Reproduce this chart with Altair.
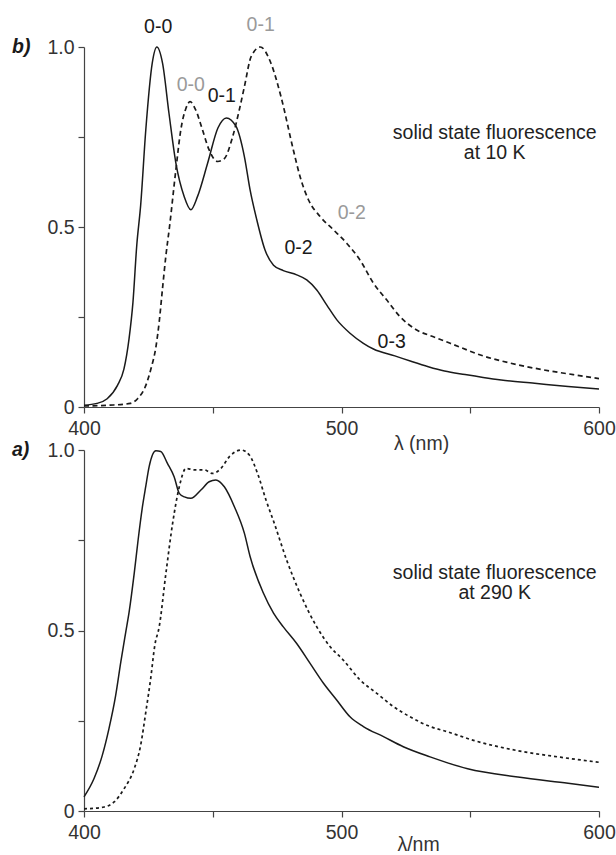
import altair as alt
import pandas as pd

FONT = "Liberation Sans"
FS = 19.5
INK = "#1a1a1a"
GRAY = "#9a9a9a"

# ---------------- panel b) : 10 K ----------------
wl_10k_solid = [400, 405, 409, 413, 415.5, 417.5, 419, 420.5, 422, 424, 426.5, 428.3,
                430.5, 433, 435.7, 438.9, 441.5, 444.1, 448, 452, 455.3, 459, 462.3,
                464.5, 467.1, 470.3, 473.6, 477.4, 482.6, 486.5, 490.4, 494.3, 498.2,
                503.3, 508.5, 512.4, 520.7, 527, 533.7, 540, 548, 555, 562, 575, 588, 600]
int_10k_solid = [0.005, 0.01, 0.023, 0.06, 0.105, 0.19, 0.29, 0.45, 0.56, 0.77, 0.955, 1.0,
                 0.955, 0.816, 0.677, 0.585, 0.548, 0.585, 0.677, 0.775, 0.803, 0.78, 0.695,
                 0.603, 0.52, 0.436, 0.394, 0.379, 0.367, 0.353, 0.325, 0.283, 0.242,
                 0.205, 0.177, 0.161, 0.142, 0.127, 0.112, 0.1, 0.09, 0.082, 0.075, 0.066,
                 0.057, 0.05]

wl_10k_dash = [400, 410, 418, 420.8, 424, 426, 428, 429.2, 430.5, 431.8, 433.2, 435.7,
               437.6, 439.6, 441.2, 443.4, 446, 448.6, 451.9, 454.5, 457.7, 460.3, 462.3,
               464.9, 468.5, 472.6, 476.5, 481.3, 483.9, 487.2, 491.7, 496.9, 502, 507.2,
               512.4, 517.6, 522.7, 529.2, 535.7, 542.2, 555, 568, 581, 590, 600]
int_10k_dash = [0.003, 0.005, 0.01, 0.023, 0.06, 0.106, 0.17, 0.236, 0.33, 0.42, 0.5, 0.66,
                0.77, 0.83, 0.848, 0.825, 0.77, 0.714, 0.682, 0.69, 0.75, 0.825, 0.89,
                0.973, 1.0, 0.955, 0.862, 0.714, 0.64, 0.575, 0.529, 0.492, 0.455, 0.408,
                0.344, 0.297, 0.251, 0.214, 0.195, 0.177, 0.142, 0.118, 0.1, 0.09, 0.079]

ann_10k_text = ["0-0", "0-0", "0-1", "0-1", "0-2", "0-2", "0-3"]
ann_10k_wl = [428.8, 441.5, 453.5, 468.6, 483.3, 504.0, 519.5]
ann_10k_val = [1.056, 0.894, 0.864, 1.06, 0.441, 0.538, 0.181]
ann_10k_color = [INK, GRAY, INK, GRAY, INK, GRAY, INK]

note_10k_text = ["solid state fluorescence", "at 10 K"]
note_10k_wl = [559.5, 559.5]
note_10k_val = [0.761, 0.705]

# ---------------- panel a) : 290 K ----------------
wl_290k_solid = [400, 403.9, 407.1, 409.7, 412.3, 414.3, 416.2, 417.5, 419.5, 421, 422.7,
                 424, 425.3, 427.9, 429.8, 432.4, 435, 437, 439, 441.5, 445.4, 448.6,
                 451.2, 454.5, 458.4, 462.3, 464.5, 469.7, 473.6, 477.4, 482.6, 487.8,
                 493, 498.2, 503.3, 508.5, 516.3, 524, 534.4, 549, 568.5, 588, 600]
int_290k_solid = [0.039, 0.09, 0.154, 0.228, 0.32, 0.413, 0.495, 0.55, 0.658, 0.75, 0.843,
                  0.9, 0.954, 0.998, 0.996, 0.963, 0.926, 0.88, 0.87, 0.866, 0.889, 0.912,
                  0.917, 0.898, 0.843, 0.769, 0.705, 0.603, 0.548, 0.51, 0.464, 0.409,
                  0.354, 0.307, 0.261, 0.234, 0.206, 0.178, 0.15, 0.117, 0.094, 0.077, 0.066]

wl_290k_dash = [400, 407.8, 411.7, 415.6, 419.5, 422, 424, 425.9, 427.5, 429.2, 431.8,
                434.4, 437, 439.6, 442.8, 446.7, 449.9, 453.2, 456.4, 461, 464.2, 467.4,
                470.7, 473.9, 478.7, 483.9, 490.4, 495.6, 500.7, 507.2, 513.7, 520.2,
                526.6, 534.4, 540.9, 551.6, 568.5, 585, 600]
int_290k_dash = [0.006, 0.011, 0.025, 0.062, 0.117, 0.182, 0.274, 0.367, 0.459, 0.51, 0.658,
                 0.796, 0.898, 0.949, 0.945, 0.945, 0.935, 0.949, 0.981, 1.0, 0.986, 0.935,
                 0.861, 0.797, 0.695, 0.603, 0.51, 0.455, 0.418, 0.363, 0.326, 0.289,
                 0.261, 0.234, 0.22, 0.195, 0.167, 0.149, 0.135]

note_290k_text = ["solid state fluorescence", "at 290 K"]
note_290k_wl = [559.5, 559.5]
note_290k_val = [0.66, 0.604]

x_ticks = [400, 450, 500, 550, 600]
y_ticks = [0, 0.25, 0.5, 0.75, 1.0]


def make_panel(s_wl, s_val, d_wl, d_val, dash, ann_t, ann_w, ann_v, ann_c,
               note_t, note_w, note_v, tag, xtitle, title_x, title_y, h):
    xenc = alt.X(
        "wl:Q",
        scale=alt.Scale(domain=[400, 600], nice=False, zero=False),
        axis=alt.Axis(values=x_ticks,
                      labelExpr="datum.value % 100 == 0 ? datum.label : ''",
                      title=xtitle, titleX=title_x, titleY=title_y,
                      titleBaseline="middle", titleAlign="center",
                      labelFlush=False, labelOverlap=False,
                      tickSize=6, labelPadding=6),
    )
    yenc = alt.Y(
        "val:Q",
        scale=alt.Scale(domain=[0, 1], nice=False),
        axis=alt.Axis(values=y_ticks,
                      labelExpr="datum.value == 0 ? '0' : (datum.value == 0.5 ? '0.5' : (datum.value == 1 ? '1.0' : ''))",
                      title="", labelOverlap=False, tickSize=6, labelPadding=4),
    )
    solid = alt.Chart(pd.DataFrame({"wl": s_wl, "val": s_val})).mark_line(
        color=INK, strokeWidth=1.5, interpolate="monotone").encode(x=xenc, y=yenc)
    dashed = alt.Chart(pd.DataFrame({"wl": d_wl, "val": d_val})).mark_line(
        color=INK, strokeWidth=1.7, strokeDash=dash, interpolate="monotone").encode(x=xenc, y=yenc)
    layers = [solid, dashed]
    if ann_t:
        ann = alt.Chart(pd.DataFrame({"wl": ann_w, "val": ann_v, "t": ann_t, "c": ann_c})).mark_text(
            font=FONT, fontSize=FS, baseline="middle", align="center").encode(
            x=xenc, y=yenc, text="t:N", color=alt.Color("c:N", scale=None))
        layers.append(ann)
    note = alt.Chart(pd.DataFrame({"wl": note_w, "val": note_v, "t": note_t})).mark_text(
        font=FONT, fontSize=FS, baseline="middle", align="center", color="#222").encode(
        x=xenc, y=yenc, text="t:N")
    tagc = alt.Chart(pd.DataFrame({"t": [tag]})).mark_text(
        font=FONT, fontSize=FS, fontWeight="bold", fontStyle="italic",
        align="left", baseline="middle", color=INK).encode(
        x=alt.value(-72), y=alt.value(0), text="t:N")
    layers += [note, tagc]
    return alt.layer(*layers).properties(width=515, height=h)


top = make_panel(wl_10k_solid, int_10k_solid, wl_10k_dash, int_10k_dash, [5, 3.5],
                 ann_10k_text, ann_10k_wl, ann_10k_val, ann_10k_color,
                 note_10k_text, note_10k_wl, note_10k_val, "b)", "λ (nm)", 337, 36, 360)
bottom = make_panel(wl_290k_solid, int_290k_solid, wl_290k_dash, int_290k_dash, [3, 3],
                    [], [], [], [],
                    note_290k_text, note_290k_wl, note_290k_val, "a)", "λ/nm", 334, 33, 361)

chart = alt.vconcat(top, bottom, spacing=43, bounds="flush").properties(
    padding={"left": 12, "top": 15, "right": 0, "bottom": 0}
).configure_view(stroke=None).configure_axis(
    domainColor="#444", domainWidth=1.2, tickColor="#444", tickWidth=1.2,
    labelFont=FONT, labelFontSize=FS, labelColor="#333",
    titleFont=FONT, titleFontSize=FS, titleColor="#333", titleFontWeight="normal",
    grid=False,
)

chart.save("out.html", embed_options={"renderer": "svg", "actions": False})
